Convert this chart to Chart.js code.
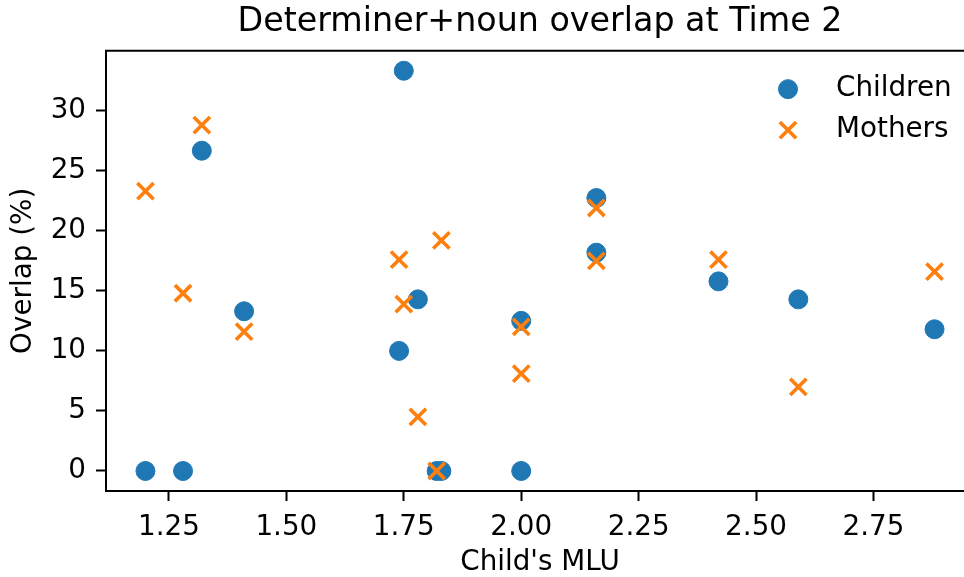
<!DOCTYPE html>
<html>
<head>
<meta charset="utf-8">
<script src="https://cdn.jsdelivr.net/npm/chart.js@4/dist/chart.umd.min.js"></script>
<style>
  html, body { margin: 0; padding: 0; background: #fff; overflow: hidden; }
  #wrap { width: 964px; height: 577px; overflow: hidden; position: relative; }
  #overlapChart { position: absolute; left: 0; top: 0; }
</style>
</head>
<body>
<div id="wrap"><canvas id="overlapChart" width="1080" height="577"></canvas></div>
<script>
// === Data ===
const childMLU = [1.20, 1.28, 1.32, 1.41, 1.74, 1.75, 1.78, 1.82, 1.83, 2.00, 2.00, 2.16, 2.16, 2.42, 2.59, 2.88];
const childrenOverlap = [0, 0, 26.67, 13.3, 10.0, 33.33, 14.29, 0, 0, 12.5, 0, 22.73, 18.18, 15.79, 14.29, 11.8];
const mothersOverlap = [23.3, 14.8, 28.8, 11.6, 17.6, 13.9, 4.5, 0, 19.2, 12.0, 8.1, 21.9, 17.5, 17.6, 7.0, 16.6];
const xTicks = [1.25, 1.50, 1.75, 2.00, 2.25, 2.50, 2.75];
const yTicks = [0, 5, 10, 15, 20, 25, 30];

const toPoints = (xs, ys) => xs.map((x, i) => ({ x: x, y: ys[i] }));

document.addEventListener('DOMContentLoaded', () => {
  Chart.defaults.font.family = "'DejaVu Sans', sans-serif";
  Chart.defaults.color = '#000';

  // top spine (the right one lies past the window edge, as in the original)
  const framePlugin = {
    id: 'frame',
    afterDraw(chart) {
      const { ctx, chartArea: a } = chart;
      ctx.save();
      ctx.strokeStyle = '#000';
      ctx.lineWidth = 2;
      ctx.beginPath();
      ctx.moveTo(a.left - 1, a.top);
      ctx.lineTo(a.right, a.top);
      ctx.stroke();
      ctx.restore();
    }
  };

  // legend inside the plot, upper right
  const innerLegend = {
    id: 'innerLegend',
    afterDraw(chart) {
      const { ctx, chartArea: a } = chart;
      ctx.save();
      chart.data.datasets.forEach((ds, i) => {
        const y = a.top + 38.5 + i * 41;
        const x = a.right - 186;
        ctx.fillStyle = ds.backgroundColor;
        ctx.strokeStyle = ds.borderColor;
        ctx.lineWidth = ds.borderWidth;
        Chart.helpers.drawPoint(ctx, {
          pointStyle: ds.pointStyle, radius: ds.pointRadius, borderWidth: ds.borderWidth, rotation: 0
        }, x, y);
        ctx.fillStyle = '#000';
        ctx.font = "27.8px 'DejaVu Sans', sans-serif";
        ctx.textAlign = 'left';
        ctx.textBaseline = 'middle';
        ctx.fillText(ds.label, a.right - 138, y);
      });
      ctx.restore();
    }
  };

  const ctx = document.getElementById('overlapChart').getContext('2d');
  new Chart(ctx, {
    type: 'scatter',
    data: {
      datasets: [
        {
          label: 'Children',
          data: toPoints(childMLU, childrenOverlap),
          pointStyle: 'circle',
          pointRadius: 9.5,
          borderWidth: 1,
          backgroundColor: '#1f77b4',
          borderColor: '#1f77b4',
          order: 1
        },
        {
          label: 'Mothers',
          data: toPoints(childMLU, mothersOverlap),
          pointStyle: 'crossRot',
          pointRadius: 11.5,
          borderWidth: 3.6,
          backgroundColor: '#ff7f0e',
          borderColor: '#ff7f0e',
          order: 0
        }
      ]
    },
    options: {
      responsive: false,
      animation: false,
      plugins: {
        legend: { display: false },
        tooltip: { enabled: false },
        title: {
          display: true,
          text: 'Determiner+noun overlap at Time 2',
          font: { size: 33.3, weight: 'normal', lineHeight: 1.2 },
          padding: { top: 2.5, bottom: 8.2 }
        }
      },
      scales: {
        x: {
          type: 'linear',
          min: 1.116,
          max: 2.964,
          afterBuildTicks: s => { s.ticks = xTicks.map(v => ({ value: v })); },
          afterFit: s => { s.height = 86; },
          ticks: {
            padding: 10,
            font: { size: 27.8 },
            callback: v => v.toFixed(2)
          },
          grid: { drawOnChartArea: false, tickLength: 10, tickWidth: 2, tickColor: '#000' },
          border: { display: true, color: '#000', width: 2 },
          title: {
            display: true,
            text: "Child's MLU",
            font: { size: 27.8, lineHeight: 1 },
            padding: { top: 0, bottom: 0.7 }
          }
        },
        y: {
          type: 'linear',
          min: -1.667,
          max: 35,
          afterBuildTicks: s => { s.ticks = yTicks.map(v => ({ value: v })); },
          afterFit: s => { s.width = 106; },
          ticks: {
            padding: 10,
            font: { size: 27.8 }
          },
          grid: { drawOnChartArea: false, tickLength: 10, tickWidth: 2, tickColor: '#000' },
          border: { display: true, color: '#000', width: 2 },
          title: {
            display: true,
            text: 'Overlap (%)',
            font: { size: 27.8, lineHeight: 1 },
            padding: { top: 9.5, bottom: 0 }
          }
        },
        // empty right-hand axis: mirrors the left margin so the title centres over the plot
        yRight: {
          type: 'linear',
          position: 'right',
          min: -1.667,
          max: 35,
          afterFit: s => { s.width = 106; },
          ticks: { display: false },
          grid: { display: false, drawTicks: false, color: 'rgba(0,0,0,0)' },
          border: { display: false, width: 0, color: 'rgba(0,0,0,0)' }
        }
      }
    },
    plugins: [framePlugin, innerLegend]
  });
});
</script>
</body>
</html>
